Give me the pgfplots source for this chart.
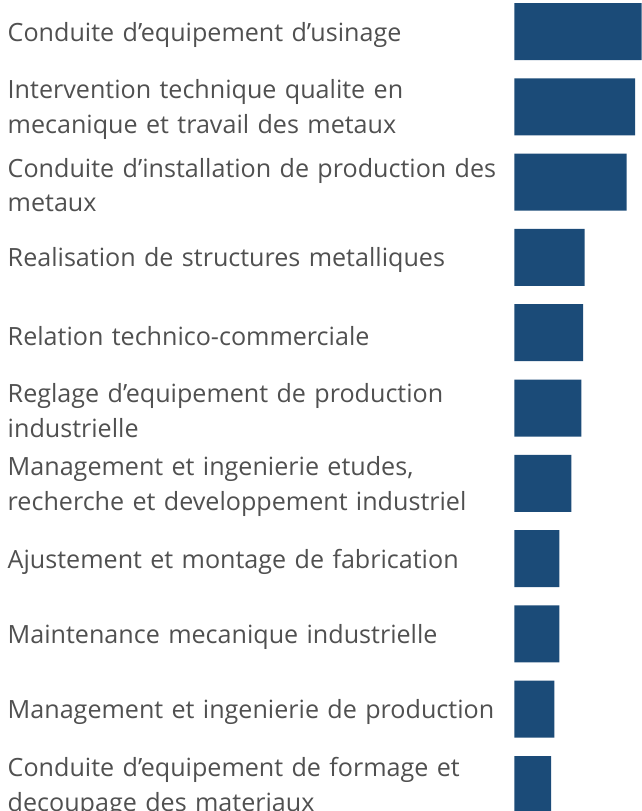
\documentclass[border=0pt]{standalone}
\usepackage{pgfplots}
\pgfplotsset{compat=1.18}
\usepackage{fontspec}
\setmainfont{Open Sans}
\definecolor{barblue}{RGB}{27,75,120}
\definecolor{labgray}{RGB}{80,80,80}
\begin{document}
\begin{tikzpicture}
\path[use as bounding box, clip] (0,0) rectangle (642bp,811bp);
\begin{axis}[
  at={(514.3bp,817.15bp)}, anchor=north west,
  scale only axis, width=127.4bp, height=828.3bp,
  xbar, bar width=57bp, y dir=reverse,
  xmin=0, xmax=127.4, ymin=0.5, ymax=11.5,
  enlargelimits=false,
  axis line style={draw=none}, major tick style={draw=none},
  xtick=\empty,
  ytick={1,...,11},
  yticklabels={
    {Conduite d’equipement d’usinage},
    {Intervention technique qualite en\\mecanique et travail des metaux},
    {Conduite d’installation de production des\\metaux},
    {Realisation de structures metalliques},
    {Relation technico-commerciale},
    {Reglage d’equipement de production\\industrielle},
    {Management et ingenierie etudes,\\recherche et developpement industriel},
    {Ajustement et montage de fabrication},
    {Maintenance mecanique industrielle},
    {Management et ingenierie de production},
    {Conduite d’equipement de formage et\\decoupage des materiaux}},
  yticklabel style={anchor=west, xshift=-502.5bp, yshift=-3bp, inner sep=0pt, text width=500bp, align=left,
    font=\fontsize{25.2}{35}\selectfont, text=labgray},
]
\addplot[draw=none, fill=barblue] coordinates {
  (127.4,1) (120.7,2) (112.4,3) (70.4,4) (68.7,5) (67.0,6)
  (57.0,7) (45.0,8) (45.0,9) (40.0,10) (36.7,11)};
\end{axis}
\end{tikzpicture}
\end{document}
